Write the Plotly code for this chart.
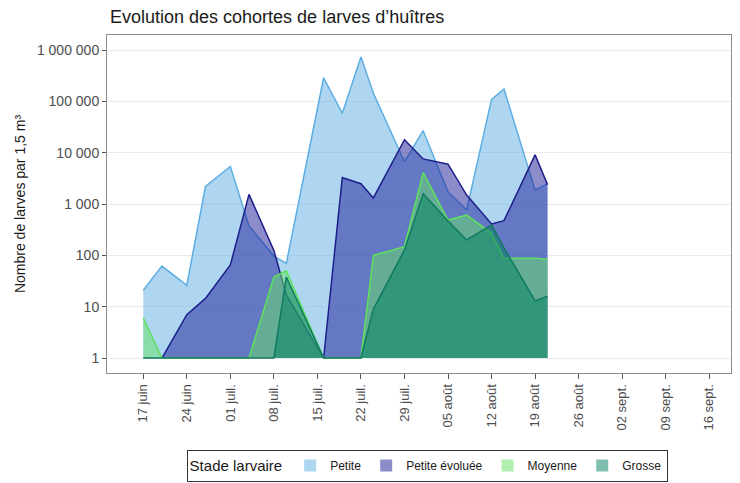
import plotly.graph_objects as go

# ---- data ----
dates = ["2024-06-17", "2024-06-20", "2024-06-24", "2024-06-27", "2024-07-01",
         "2024-07-04", "2024-07-08", "2024-07-10", "2024-07-16", "2024-07-19",
         "2024-07-22", "2024-07-24", "2024-07-29", "2024-08-01", "2024-08-05",
         "2024-08-08", "2024-08-12", "2024-08-14", "2024-08-19", "2024-08-21"]

petite = [21, 62, 26, 2200, 5400, 375, 97, 70, 290000, 59000,
          740000, 145000, 6700, 27000, 1740, 770, 110000, 175000, 1870, 2500]
petite_evoluee = [None, 1, 7, 14.5, 65, 1550, 125, 17, 1, 3300,
                  2500, 1320, 18000, 7600, 6000, 1500, 410, 475, 9100, 2400]
moyenne = [6, 1, 1, 1, 1, 1, 38, 50, 1, 1,
           1, 100, 148, 4100, 490, 610, 270, 88, 88, 84]
grosse = [1, 1, 1, 1, 1, 1, 1, 38, 1, 1,
          1, 9, 127, 1600, 470, 200, 390, 140, 13, 16]

series_names = ["Petite", "Petite évoluée", "Moyenne", "Grosse"]
series_values = [petite, petite_evoluee, moyenne, grosse]
line_colors = ["#5dade2", "#1f1f8c", "#5ee25e", "#0f7a5f"]
fill_colors = ["rgba(93,173,226,0.5)", "rgba(26,26,150,0.5)",
               "rgba(101,225,101,0.5)", "rgba(0,128,96,0.5)"]

tick_dates = ["2024-06-17", "2024-06-24", "2024-07-01", "2024-07-08", "2024-07-15",
              "2024-07-22", "2024-07-29", "2024-08-05", "2024-08-12", "2024-08-19",
              "2024-08-26", "2024-09-02", "2024-09-09", "2024-09-16"]
tick_labels = ["17 juin", "24 juin", "01 juil.", "08 juil.", "15 juil.", "22 juil.",
               "29 juil.", "05 août", "12 août", "19 août", "26 août", "02 sept.",
               "09 sept.", "16 sept."]

y_tickvals = [1, 10, 100, 1000, 10000, 100000, 1000000]
y_ticktext = ["1", "10", "100", "1 000", "10 000", "100 000", "1 000 000"]

fig = go.Figure()

for name, vals, lc, fc in zip(series_names, series_values, line_colors, fill_colors):
    xs = [d for d, v in zip(dates, vals) if v is not None]
    ys = [v for v in vals if v is not None]
    # baseline at 1 (areas in the reference are filled down to 1)
    fig.add_trace(go.Scatter(x=xs, y=[1] * len(xs), mode="lines",
                             line=dict(width=0, color="rgba(0,0,0,0)"),
                             showlegend=False, hoverinfo="skip"))
    fig.add_trace(go.Scatter(x=xs, y=ys, mode="lines", name=name,
                             line=dict(color=lc, width=1.5),
                             fill="tonexty", fillcolor=fc,
                             showlegend=False))

# legend swatches
for name, fc in zip(series_names, fill_colors):
    fig.add_trace(go.Scatter(x=[None], y=[None], mode="markers", name=name,
                             marker=dict(symbol="square", size=17, color=fc,
                                         line=dict(width=0)),
                             showlegend=True))

# the page body adds an 8px offset, so margins are compensated
fig.update_layout(
    width=740, height=483,
    margin=dict(l=99, r=17, t=27, b=118, autoexpand=False),
    paper_bgcolor="white", plot_bgcolor="white",
    font=dict(family="Liberation Sans, Arial, sans-serif", color="#4d4d4d", size=13),
    title=dict(text="Evolution des cohortes de larves d’huîtres",
               x=102 / 740, xanchor="left", y=1 - 9 / 483, yanchor="middle",
               font=dict(size=18, color="#1a1a1a")),
    legend=dict(orientation="h", x=0.513, xanchor="center", y=-0.228, yanchor="top",
                bordercolor="#333333", borderwidth=1,
                title=dict(text="Stade larvaire", font=dict(size=15, color="#1a1a1a")),
                font=dict(size=12, color="#1a1a1a"),
                itemsizing="constant", traceorder="normal", itemwidth=30),
    showlegend=True,
)

fig.update_xaxes(
    type="date", automargin=False,
    range=["2024-06-11 04:00", "2024-09-19 12:00"],
    tickmode="array", tickvals=tick_dates, ticktext=tick_labels,
    tickangle=-90, ticks="outside", ticklen=5, tickcolor="#555555",
    showgrid=False, zeroline=False,
    showline=True, linecolor="#8c8c8c", linewidth=1, mirror=True,
    tickfont=dict(size=13, color="#4d4d4d"),
)

fig.update_yaxes(
    type="log", automargin=False,
    range=[-0.292, 6.296],
    tickmode="array", tickvals=y_tickvals, ticktext=y_ticktext,
    ticks="outside", ticklen=4, tickcolor="#555555",
    showgrid=True, gridcolor="#ebebeb", gridwidth=1, zeroline=False,
    showline=True, linecolor="#8c8c8c", linewidth=1, mirror=True,
    tickfont=dict(size=14, color="#4d4d4d"),
    title=dict(text="Nombre de larves par 1,5 m³", font=dict(size=14, color="#1a1a1a"),
               standoff=8),
)

fig.write_html("out.html")
